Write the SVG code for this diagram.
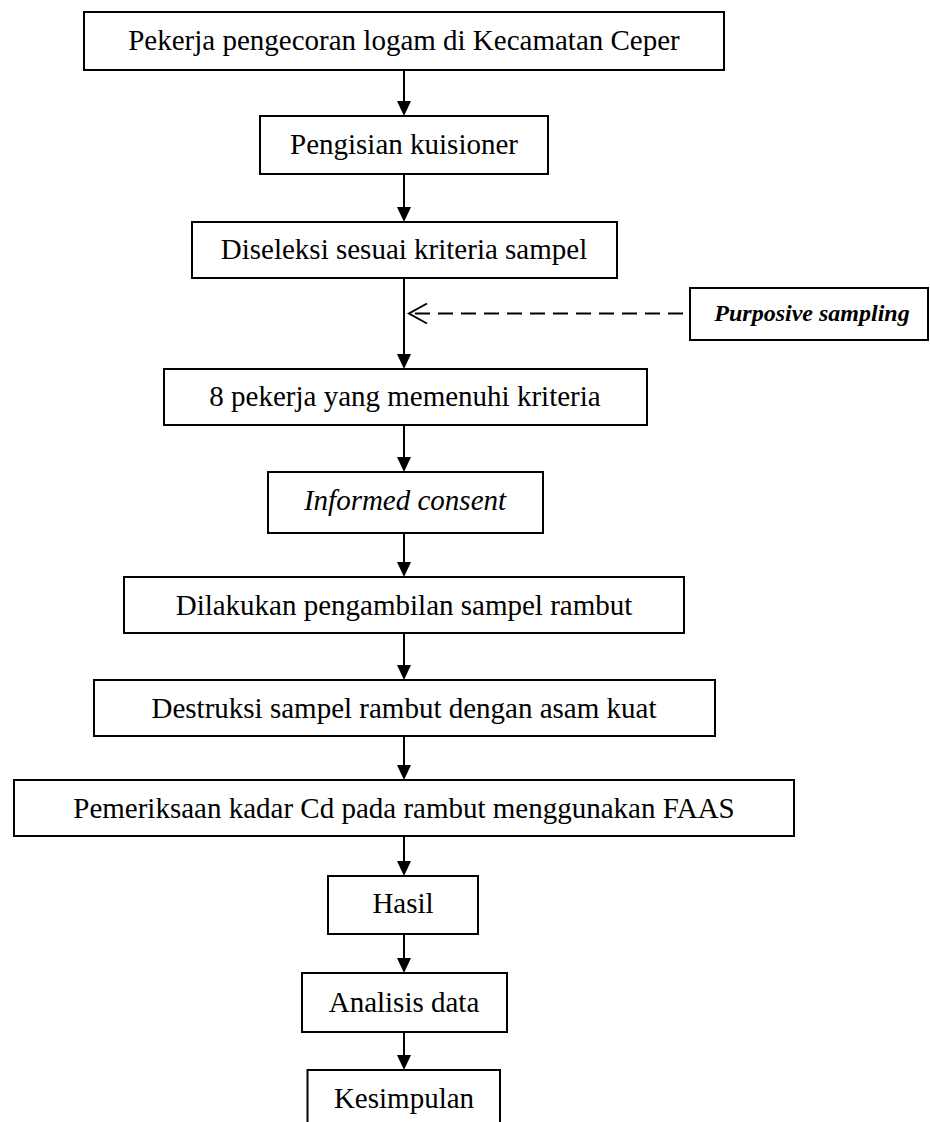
<svg xmlns="http://www.w3.org/2000/svg" width="930" height="1122" viewBox="0 0 930 1122">
<style>
.box{fill:#fff;stroke:#000;stroke-width:2}
.t{font-family:"Liberation Serif","Times New Roman",serif;font-size:29px;fill:#000;text-anchor:middle}
.it{font-style:italic}
.ps{font-family:"Liberation Serif","Times New Roman",serif;font-size:24px;font-weight:bold;font-style:italic;fill:#000;text-anchor:middle}
.ln{stroke:#000;stroke-width:2;fill:none}
.dash{stroke:#000;stroke-width:2;fill:none;stroke-dasharray:15 8}
.ah{fill:#000}
</style>
<rect width="930" height="1122" fill="#fff"/>
<g id="connectors">
<line class="ln" x1="404" y1="70" x2="404" y2="102"/><polygon class="ah" points="397,101 411,101 404,116"/>
<line class="ln" x1="404" y1="174" x2="404" y2="208"/><polygon class="ah" points="397,207 411,207 404,222"/>
<line class="ln" x1="404" y1="278" x2="404" y2="355"/><polygon class="ah" points="397,354 411,354 404,369"/>
<line class="ln" x1="404" y1="425" x2="404" y2="458"/><polygon class="ah" points="397,457 411,457 404,472"/>
<line class="ln" x1="404" y1="533" x2="404" y2="563"/><polygon class="ah" points="397,562 411,562 404,577"/>
<line class="ln" x1="404" y1="633" x2="404" y2="666"/><polygon class="ah" points="397,665 411,665 404,680"/>
<line class="ln" x1="404" y1="736" x2="404" y2="766"/><polygon class="ah" points="397,765 411,765 404,780"/>
<line class="ln" x1="404" y1="836" x2="404" y2="862"/><polygon class="ah" points="397,861 411,861 404,876"/>
<line class="ln" x1="404" y1="934" x2="404" y2="959"/><polygon class="ah" points="397,958 411,958 404,973"/>
<line class="ln" x1="404" y1="1032" x2="404" y2="1056"/><polygon class="ah" points="397,1055 411,1055 404,1070"/>
<line class="dash" x1="683" y1="313.5" x2="410" y2="313.5"/>
<polyline class="ln" points="427,303.5 409,313.5 427,323.5"/>
</g>
<g id="n1"><rect class="box" x="84" y="12" width="640" height="58"/><text class="t" x="404" y="50">Pekerja pengecoran logam di Kecamatan Ceper</text></g>
<g id="n2"><rect class="box" x="260" y="116" width="288" height="58"/><text class="t" x="404" y="153.5">Pengisian kuisioner</text></g>
<g id="n3"><rect class="box" x="192" y="222" width="425" height="56"/><text class="t" x="404" y="258.5">Diseleksi sesuai kriteria sampel</text></g>
<g id="n-purposive"><rect class="box" x="690" y="288" width="238" height="52"/><text class="ps" x="812" y="321">Purposive sampling</text></g>
<g id="n4"><rect class="box" x="164" y="369" width="483" height="56"/><text class="t" x="405" y="406">8 pekerja yang memenuhi kriteria</text></g>
<g id="n5"><rect class="box" x="268" y="472" width="275" height="61"/><text class="t it" x="405" y="509.5">Informed consent</text></g>
<g id="n6"><rect class="box" x="124" y="577" width="560" height="56"/><text class="t" x="404" y="615">Dilakukan pengambilan sampel rambut</text></g>
<g id="n7"><rect class="box" x="94" y="680" width="621" height="56"/><text class="t" x="404" y="717.5">Destruksi sampel rambut dengan asam kuat</text></g>
<g id="n8"><rect class="box" x="14" y="780" width="780" height="56"/><text class="t" x="404" y="818">Pemeriksaan kadar Cd pada rambut menggunakan FAAS</text></g>
<g id="n9"><rect class="box" x="328" y="876" width="150" height="58"/><text class="t" x="403" y="913">Hasil</text></g>
<g id="n10"><rect class="box" x="302" y="973" width="205" height="59"/><text class="t" x="404" y="1012">Analisis data</text></g>
<g id="n11"><rect class="box" x="307.5" y="1070" width="192.5" height="60"/><text class="t" x="404" y="1107.5">Kesimpulan</text></g>
</svg>
